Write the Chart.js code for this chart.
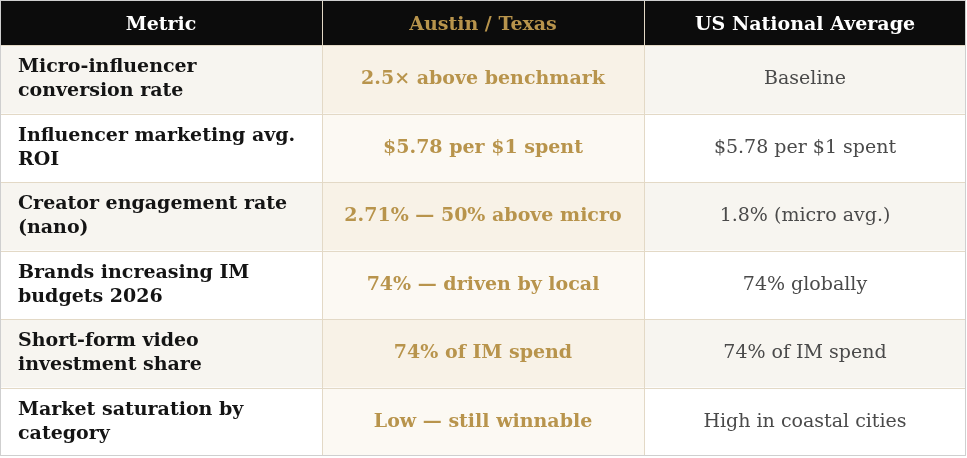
<!DOCTYPE html>
<html>
<head>
  <script src="https://cdn.jsdelivr.net/npm/chart.js"></script>
  <style>body{margin:0;background:#fff}</style>
</head>
<body>
  <canvas id="chart" width="967" height="458"></canvas>
  <script>
    const headers = ['Metric', 'Austin / Texas', 'US National Average'];
    const metrics = [
      ['Micro-influencer', 'conversion rate'],
      ['Influencer marketing avg.', 'ROI'],
      ['Creator engagement rate', '(nano)'],
      ['Brands increasing IM', 'budgets 2026'],
      ['Short-form video', 'investment share'],
      ['Market saturation by', 'category']
    ];
    const austin = ['2.5\u00d7 above benchmark', '$5.78 per $1 spent', '2.71% \u2014 50% above micro',
      '74% \u2014 driven by local', '74% of IM spend', 'Low \u2014 still winnable'];
    const national = ['Baseline', '$5.78 per $1 spent', '1.8% (micro avg.)',
      '74% globally', '74% of IM spend', 'High in coastal cities'];

    const HEAD = 0.66; // header height in row units
    const font = '"DejaVu Serif", Georgia, serif';

    const tablePlugin = {
      id: 'table',
      afterDraw(chart) {
        const c = chart.ctx, xs = chart.scales.x, ys = chart.scales.y;
        const X = v => xs.getPixelForValue(v), Y = v => ys.getPixelForValue(v);
        c.save();
        // header
        c.fillStyle = '#0c0c0c';
        c.fillRect(X(0), Y(0), X(3) - X(0), Y(HEAD) - Y(0));
        c.textBaseline = 'middle';
        c.textAlign = 'center';
        c.font = 'bold 19px ' + font;
        headers.forEach((h, i) => {
          c.fillStyle = i === 1 ? '#b8944c' : '#ffffff';
          c.fillText(h, (X(i) + X(i + 1)) / 2, (Y(0) + Y(HEAD)) / 2 + 2);
        });
        // rows
        metrics.forEach((m, r) => {
          const y0 = Y(HEAD + r), y1 = Y(HEAD + r + 1), ym = (y0 + y1) / 2;
          const odd = r % 2 === 0;
          c.fillStyle = odd ? '#f7f5f0' : '#ffffff';
          c.fillRect(X(0), y0, X(3) - X(0), y1 - y0);
          c.fillStyle = odd ? '#f8f2e7' : '#fcf9f3';
          c.fillRect(X(1), y0, X(2) - X(1), y1 - y0);
          c.textAlign = 'left';
          c.fillStyle = '#141414';
          c.font = 'bold 19px ' + font;
          c.fillText(m[0], X(0) + 18, ym - 12);
          c.fillText(m[1], X(0) + 18, ym + 12);
          c.textAlign = 'center';
          c.fillStyle = '#b8944c';
          c.fillText(austin[r], (X(1) + X(2)) / 2, ym);
          c.fillStyle = '#4a4a4a';
          c.font = '19px ' + font;
          c.fillText(national[r], (X(2) + X(3)) / 2, ym);
          // row border
          c.strokeStyle = '#e3d9c6';
          c.lineWidth = 1;
          c.beginPath();
          c.moveTo(X(0), Math.round(y0) + 0.5); c.lineTo(X(3), Math.round(y0) + 0.5);
          c.stroke();
        });
        // column borders
        c.strokeStyle = '#e3d9c6';
        [1, 2].forEach(i => {
          c.beginPath();
          c.moveTo(Math.round(X(i)) + 0.5, Y(0)); c.lineTo(Math.round(X(i)) + 0.5, Y(HEAD + 6));
          c.stroke();
        });
        c.strokeStyle = '#cfcfcf';
        c.strokeRect(X(0) + 0.5, Y(0) + 0.5, X(3) - X(0) - 1, Y(HEAD + 6) - Y(0) - 1);
        c.restore();
      }
    };

    new Chart(document.getElementById('chart'), {
      type: 'scatter',
      data: { datasets: [{ data: [] }] },
      options: {
        responsive: false,
        animation: false,
        layout: { padding: { left: 0, right: 1, top: 0, bottom: 2 } },
        plugins: { legend: { display: false }, tooltip: { enabled: false } },
        scales: {
          x: { type: 'linear', min: 0, max: 3, display: false },
          y: { type: 'linear', min: 0, max: HEAD + 6, reverse: true, display: false }
        }
      },
      plugins: [tablePlugin]
    });
  </script>
</body>
</html>
